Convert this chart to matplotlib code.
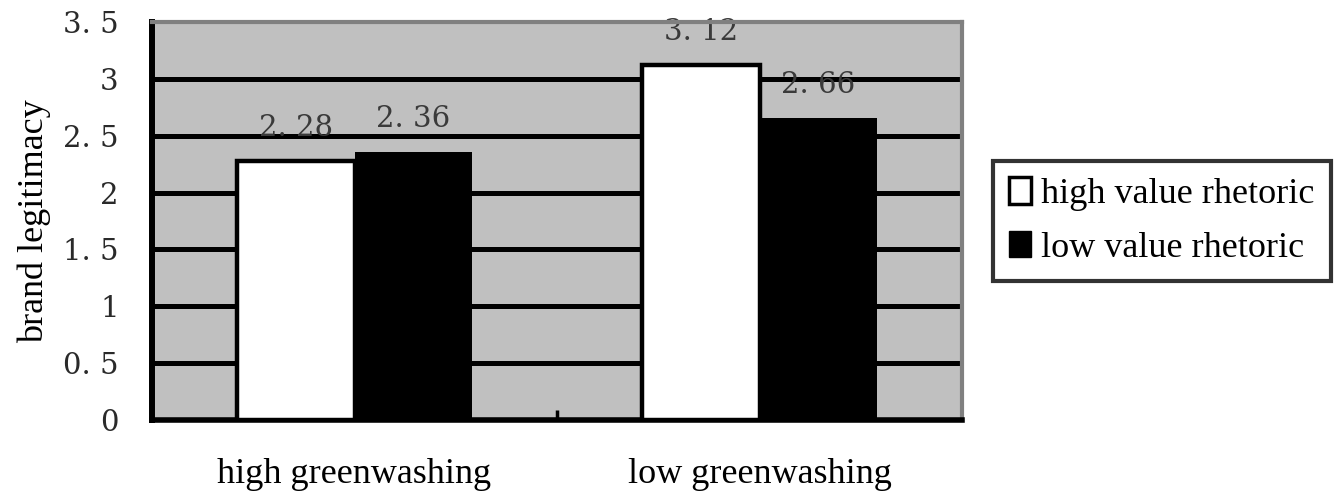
import numpy as np
import matplotlib.pyplot as plt
from matplotlib.patches import Patch

categories = ["high greenwashing", "low greenwashing"]
series_names = ["high value rhetoric", "low value rhetoric"]
high_rhetoric = [2.28, 3.12]
low_rhetoric = [2.36, 2.66]
value_labels_high = ["2. 28", "3. 12"]
value_labels_low = ["2. 36", "2. 66"]
yticks = [0, 0.5, 1, 1.5, 2, 2.5, 3, 3.5]
ytick_labels = ["0", "0. 5", "1", "1. 5", "2", "2. 5", "3", "3. 5"]

serif = ["Liberation Serif", "DejaVu Serif"]
numfont = ["DejaVu Serif"]

fig = plt.figure(figsize=(13.36, 4.91), dpi=100)
ax = fig.add_axes([0.1138, 0.1446, 0.6063, 0.8106])
ax.set_facecolor("#c0c0c0")

x = np.arange(len(categories))
w = 0.29
ax.bar(x - w / 2, high_rhetoric, w, color="white", edgecolor="black", linewidth=3.2, zorder=3)
ax.bar(x + w / 2, low_rhetoric, w, color="black", edgecolor="black", linewidth=0, zorder=3)

for xi, v, s in zip(x - w / 2, high_rhetoric, value_labels_high):
    ax.text(xi, v + 0.29, s, ha="center", va="center", fontsize=21, color="#3a3a3a",
            family=numfont, fontweight="light", zorder=2)
for xi, v, s in zip(x + w / 2, low_rhetoric, value_labels_low):
    ax.text(xi, v + 0.29, s, ha="center", va="center", fontsize=21, color="#3a3a3a",
            family=numfont, fontweight="light", zorder=2)

for y in yticks[1:-1]:
    ax.axhline(y, color="black", lw=3.6, zorder=1)

ax.set_xlim(-0.5, 1.5)
ax.set_ylim(0, 3.5)
ax.set_yticks(yticks)
ax.set_yticklabels(ytick_labels, family=numfont, fontsize=21, color="#2a2a2a")
ax.tick_params(axis="y", length=0, pad=24)
ax.set_xticks(x)
ax.set_xticklabels(categories, family=serif, fontsize=26)
ax.tick_params(axis="x", length=0, pad=27)
ax.set_xticks([0.5], minor=True)
ax.tick_params(axis="x", which="minor", direction="in", length=7, width=2.5, color="black")
ax.set_yticks([3.5], minor=True)
ax.tick_params(axis="y", which="minor", direction="in", length=5, width=4, color="black")

ax.spines["left"].set_linewidth(4.3)
ax.spines["bottom"].set_linewidth(4)
ax.spines["left"].set_color("black")
ax.spines["bottom"].set_color("black")
ax.spines["top"].set_color("#808080")
ax.spines["right"].set_color("#808080")
ax.spines["top"].set_linewidth(3)
ax.spines["right"].set_linewidth(3)

ax.set_ylabel("brand legitimacy", family=serif, fontsize=26, labelpad=9)

handles = [Patch(facecolor="white", edgecolor="black", linewidth=2.5),
           Patch(facecolor="black", edgecolor="black")]
leg = fig.legend(handles, series_names, loc="upper left", bbox_to_anchor=(0.743, 0.672),
                 prop={"family": serif, "size": 26}, frameon=True, fancybox=False,
                 edgecolor="black", handlelength=0.6, handleheight=0.75, handletextpad=0.3,
                 borderpad=0.45, labelspacing=0.55, borderaxespad=0)
leg.get_frame().set_linewidth(3)

fig.savefig("out.png", dpi=100)
